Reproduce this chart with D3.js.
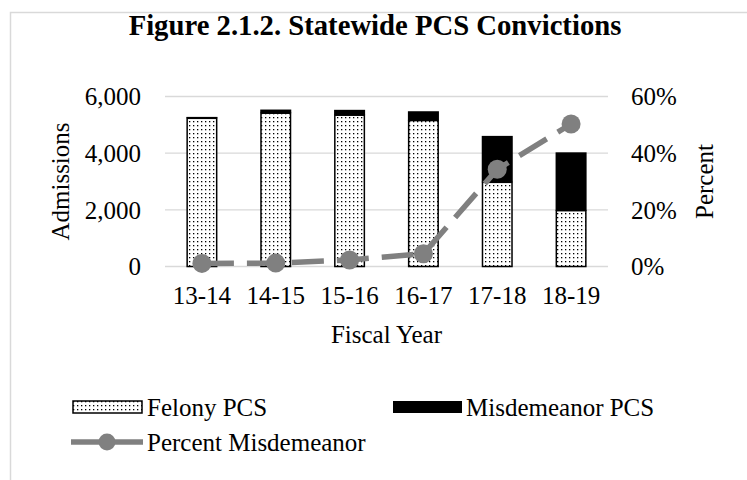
<!DOCTYPE html>
<html>
<head>
<meta charset="utf-8">
<script src="https://cdn.jsdelivr.net/npm/d3@7"></script>
<style>
  body { margin: 0; background: #fff; }
  svg text { font-family: "Liberation Serif", "Times New Roman", serif; fill: #000; }
</style>
</head>
<body>
<div id="chart"></div>
<script>
var categories = ["13-14", "14-15", "15-16", "16-17", "17-18", "18-19"];
var felony = [5230, 5410, 5340, 5150, 2970, 1970];
var misdemeanor = [50, 130, 190, 330, 1640, 2060];
var percentMisd = [1.1, 1.2, 2.3, 4.5, 34.3, 50.3];
var leftTicks = [0, 2000, 4000, 6000];
var rightTicks = [0, 20, 40, 60];

var width = 747, height = 480;
var plot = { left: 165, right: 608, top: 96.5, bottom: 266.5 };

var svg = d3.select("#chart").append("svg")
  .attr("width", width)
  .attr("height", height);

// dotted fill like the excel pattern
var defs = svg.append("defs");
var pat = defs.append("pattern")
  .attr("id", "dots")
  .attr("patternUnits", "userSpaceOnUse")
  .attr("width", 4).attr("height", 4);
pat.append("rect").attr("width", 4).attr("height", 4).attr("fill", "#fff");
pat.append("rect").attr("x", 1).attr("y", 1).attr("width", 1.3).attr("height", 1.3).attr("fill", "#000");

// chart frame
svg.append("rect")
  .attr("x", 10.5).attr("y", 12.5)
  .attr("width", 800).attr("height", 500)
  .attr("fill", "none")
  .attr("stroke", "#d9d9d9")
  .attr("stroke-width", 1.5);

var x = d3.scaleBand()
  .domain(categories)
  .range([plot.left, plot.right])
  .paddingInner(0.6)
  .paddingOuter(0.3);

var y = d3.scaleLinear().domain([0, 6000]).range([plot.bottom, plot.top]);
var y2 = d3.scaleLinear().domain([0, 60]).range([plot.bottom, plot.top]);

// gridlines
svg.append("g").selectAll("line")
  .data(leftTicks)
  .enter().append("line")
  .attr("x1", plot.left).attr("x2", plot.right)
  .attr("y1", function(d) { return y(d); })
  .attr("y2", function(d) { return y(d); })
  .attr("stroke", "#d9d9d9")
  .attr("stroke-width", 1.3);

// left axis labels
svg.append("g").selectAll("text")
  .data(leftTicks)
  .enter().append("text")
  .attr("x", 141)
  .attr("y", function(d) { return y(d); })
  .attr("dy", "0.35em")
  .attr("text-anchor", "end")
  .style("font-size", "25px")
  .text(function(d) { return d3.format(",")(d); });

// right axis labels
svg.append("g").selectAll("text")
  .data(rightTicks)
  .enter().append("text")
  .attr("x", 631)
  .attr("y", function(d) { return y2(d); })
  .attr("dy", "0.35em")
  .attr("text-anchor", "start")
  .style("font-size", "25px")
  .text(function(d) { return d + "%"; });

// x labels
svg.append("g").selectAll("text")
  .data(categories)
  .enter().append("text")
  .attr("x", function(d) { return x(d) + x.bandwidth() / 2; })
  .attr("y", 304)
  .attr("text-anchor", "middle")
  .style("font-size", "25px")
  .text(function(d) { return d; });

// stacked bars
var bars = svg.append("g");
bars.selectAll(".fel")
  .data(categories)
  .enter().append("rect")
  .attr("class", "fel")
  .attr("x", function(d) { return x(d); })
  .attr("y", function(d, i) { return y(felony[i]); })
  .attr("width", x.bandwidth())
  .attr("height", function(d, i) { return y(0) - y(felony[i]); })
  .attr("fill", "url(#dots)")
  .attr("stroke", "#000")
  .attr("stroke-width", 1.5);

bars.selectAll(".mis")
  .data(categories)
  .enter().append("rect")
  .attr("class", "mis")
  .attr("x", function(d) { return x(d) - 0.75; })
  .attr("y", function(d, i) { return y(felony[i] + misdemeanor[i]); })
  .attr("width", x.bandwidth() + 1.5)
  .attr("height", function(d, i) { return y(felony[i]) - y(felony[i] + misdemeanor[i]); })
  .attr("fill", "#000");

// percent line
var line = d3.line()
  .x(function(d, i) { return x(categories[i]) + x.bandwidth() / 2; })
  .y(function(d) { return y2(d); });

svg.append("path")
  .datum(percentMisd)
  .attr("d", line)
  .attr("fill", "none")
  .attr("stroke", "#808080")
  .attr("stroke-width", 5.5)
  .attr("stroke-dasharray", "32,13");

svg.append("g").selectAll("circle")
  .data(percentMisd)
  .enter().append("circle")
  .attr("cx", function(d, i) { return x(categories[i]) + x.bandwidth() / 2; })
  .attr("cy", function(d) { return y2(d); })
  .attr("r", 9.5)
  .attr("fill", "#808080");

// title + axis titles
svg.append("text")
  .attr("x", 375).attr("y", 35)
  .attr("text-anchor", "middle")
  .style("font-size", "28.7px")
  .style("font-weight", "bold")
  .text("Figure 2.1.2. Statewide PCS Convictions");

svg.append("text")
  .attr("transform", "translate(69," + ((plot.top + plot.bottom) / 2) + ") rotate(-90)")
  .attr("text-anchor", "middle")
  .style("font-size", "25px")
  .text("Admissions");

svg.append("text")
  .attr("transform", "translate(713," + ((plot.top + plot.bottom) / 2) + ") rotate(-90)")
  .attr("text-anchor", "middle")
  .style("font-size", "25px")
  .text("Percent");

svg.append("text")
  .attr("x", (plot.left + plot.right) / 2).attr("y", 343)
  .attr("text-anchor", "middle")
  .style("font-size", "25px")
  .text("Fiscal Year");

// legend
var legend = svg.append("g");
legend.append("rect")
  .attr("x", 73).attr("y", 401).attr("width", 69).attr("height", 12)
  .attr("fill", "url(#dots)").attr("stroke", "#000").attr("stroke-width", 1.5);
legend.append("text")
  .attr("x", 147).attr("y", 407).attr("dy", "0.35em")
  .style("font-size", "25px")
  .text("Felony PCS");

legend.append("rect")
  .attr("x", 393).attr("y", 401).attr("width", 69).attr("height", 12)
  .attr("fill", "#000");
legend.append("text")
  .attr("x", 466).attr("y", 407).attr("dy", "0.35em")
  .style("font-size", "25px")
  .text("Misdemeanor PCS");

legend.append("line")
  .attr("x1", 71).attr("x2", 143).attr("y1", 442).attr("y2", 442)
  .attr("stroke", "#808080").attr("stroke-width", 5.5);
legend.append("circle")
  .attr("cx", 107).attr("cy", 442).attr("r", 8.5)
  .attr("fill", "#808080");
legend.append("text")
  .attr("x", 147).attr("y", 442).attr("dy", "0.35em")
  .style("font-size", "25px")
  .text("Percent Misdemeanor");
</script>
</body>
</html>
